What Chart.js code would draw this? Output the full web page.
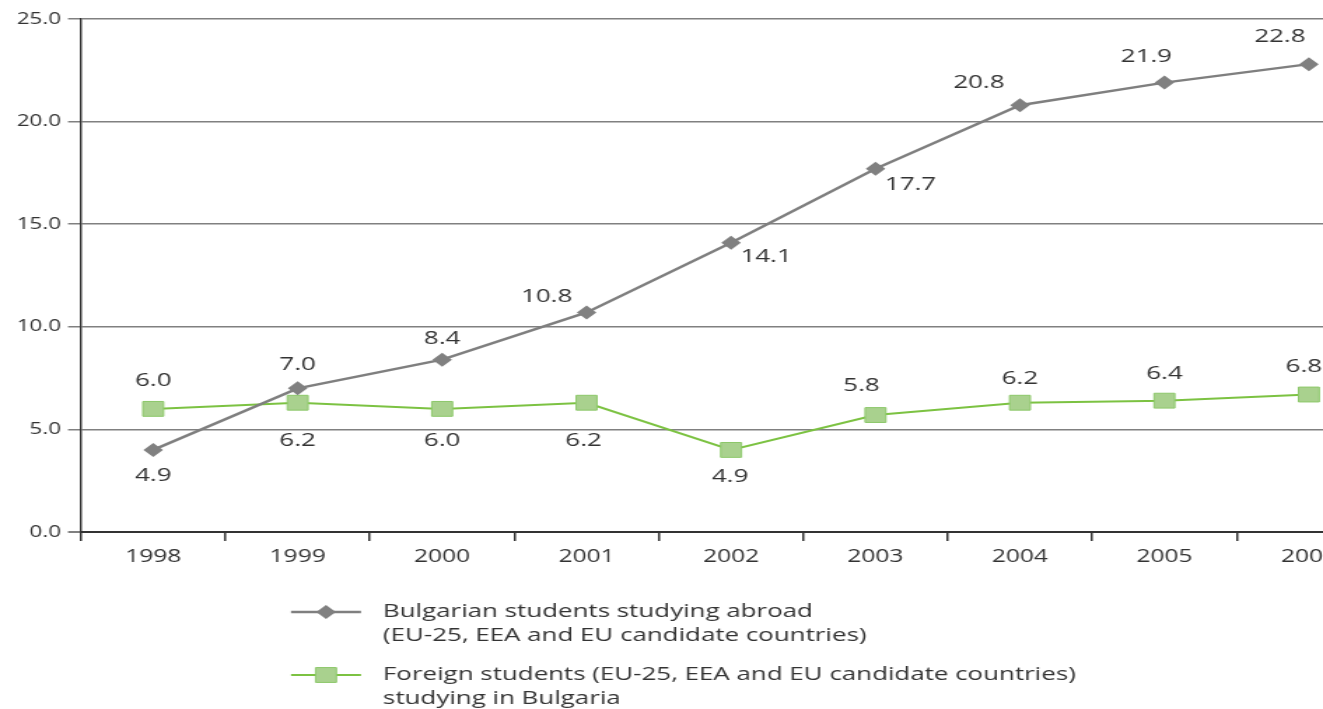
<!DOCTYPE html>
<html>
<head>
<meta charset="utf-8">
<script src="https://cdn.jsdelivr.net/npm/chart.js@4"></script>
<style>
  html, body { margin: 0; padding: 0; background: #fff; overflow: hidden; }
  #wrap { width: 998px; height: 709px; transform: scaleX(1.4); transform-origin: 0 0; }
</style>
</head>
<body>
<div id="wrap"><canvas id="studentsChart" width="998" height="709"></canvas></div>
<script>
// the source picture is stretched sideways, so the page is drawn narrow and widened
const S = 1.4;

const years = ['1998', '1999', '2000', '2001', '2002', '2003', '2004', '2005', '2006'];

// where the points sit in the picture
const bulgarianAbroad = [4.0, 7.0, 8.4, 10.7, 14.1, 17.7, 20.8, 21.9, 22.8];
const foreignInBulgaria = [6.0, 6.3, 6.0, 6.3, 4.0, 5.7, 6.3, 6.4, 6.7];

// what the value labels say
const bulgarianLabels = ['4.9', '7.0', '8.4', '10.8', '14.1', '17.7', '20.8', '21.9', '22.8'];
const foreignLabels = ['6.0', '6.2', '6.0', '6.2', '4.9', '5.8', '6.2', '6.4', '6.8'];

const yTicks = [0, 5, 10, 15, 20, 25];

const seriesNames = [
  ['Bulgarian students studying abroad', '(EU-25, EEA and EU candidate countries)'],
  ['Foreign students (EU-25, EEA and EU candidate countries)', 'studying in Bulgaria']
];

const FONT = '"Open Sans", "DejaVu Sans", sans-serif';

// label placement relative to each point (screen px)
const labelOffsets = [
  [[0, 26], [0, -24], [0, -21], [-40, -16], [35, 14], [35, 16], [-41, -22], [-18, -26], [-29, -27]],
  [[0, -28], [0, 38], [0, 32], [-3, 38], [-1, 27], [-14, -29], [0, -24], [0, -27], [-5, -28]]
];

const valueLabels = {
  id: 'valueLabels',
  afterDatasetsDraw(chart) {
    const ctx = chart.ctx;
    ctx.save();
    ctx.font = '18.5px ' + FONT;
    ctx.fillStyle = '#333333';
    ctx.textAlign = 'center';
    ctx.textBaseline = 'middle';
    const texts = [bulgarianLabels, foreignLabels];
    chart.data.datasets.forEach((ds, i) => {
      chart.getDatasetMeta(i).data.forEach((pt, j) => {
        const [dx, dy] = labelOffsets[i][j];
        ctx.fillText(texts[i][j], pt.x + dx / S, pt.y + dy);
      });
    });
    ctx.restore();
  }
};

function marker(ctx, ds, x, y) {
  ctx.fillStyle = ds.pointBackgroundColor;
  ctx.strokeStyle = ds.pointBorderColor;
  ctx.lineWidth = ds.pointBorderWidth;
  ctx.beginPath();
  if (ds.pointStyle === 'rectRot') {
    const r = ds.pointRadius;
    ctx.moveTo(x, y - r); ctx.lineTo(x + r, y); ctx.lineTo(x, y + r); ctx.lineTo(x - r, y);
  } else {
    const h = ds.pointRadius * Math.SQRT1_2;
    ctx.rect(x - h, y - h, 2 * h, 2 * h);
  }
  ctx.closePath();
  ctx.fill();
  if (ds.pointBorderWidth) ctx.stroke();
}

const customLegend = {
  id: 'customLegend',
  afterDraw(chart) {
    const ctx = chart.ctx;
    const rows = [612, 675];
    ctx.save();
    chart.data.datasets.forEach((ds, i) => {
      const y = rows[i];
      ctx.strokeStyle = ds.borderColor;
      ctx.lineWidth = ds.borderWidth;
      ctx.beginPath();
      ctx.moveTo(291 / S, y);
      ctx.lineTo(361 / S, y);
      ctx.stroke();
      marker(ctx, ds, 326 / S, y);
      ctx.font = '18.5px ' + FONT;
      ctx.fillStyle = '#333333';
      ctx.textAlign = 'left';
      ctx.textBaseline = 'middle';
      seriesNames[i].forEach((line, k) => ctx.fillText(line, 383 / S, y + k * 23.5));
    });
    ctx.restore();
  }
};

new Chart(document.getElementById('studentsChart').getContext('2d'), {
  type: 'line',
  data: {
    labels: years,
    datasets: [{
      label: seriesNames[0].join(' '),
      data: bulgarianAbroad,
      borderColor: '#7f7f7f',
      borderWidth: 2.5,
      pointStyle: 'rectRot',
      pointRadius: 7,
      pointBackgroundColor: '#808080',
      pointBorderColor: '#808080',
      pointBorderWidth: 0,
      tension: 0
    }, {
      label: seriesNames[1].join(' '),
      data: foreignInBulgaria,
      borderColor: '#7cc242',
      borderWidth: 2,
      pointStyle: 'rect',
      pointRadius: 10.5,
      pointBackgroundColor: '#a9d18e',
      pointBorderColor: '#8dc86a',
      pointBorderWidth: 1,
      tension: 0
    }]
  },
  options: {
    responsive: false,
    animation: false,
    events: [],
    devicePixelRatio: 1,
    layout: { padding: { top: 19, right: 0, left: 0, bottom: 0 } },
    plugins: {
      legend: { display: false },
      tooltip: { enabled: false }
    },
    scales: {
      x: {
        offset: true,
        grid: {
          offset: true,
          drawOnChartArea: false,
          drawTicks: true,
          tickLength: 9,
          color: '#333333',
          lineWidth: 1.5
        },
        border: { color: '#333333', width: 2 },
        ticks: {
          color: '#333333',
          padding: 6,
          font: { family: FONT, size: 17.5 },
          maxRotation: 0,
          autoSkip: false
        },
        afterFit(scale) { scale.height = 709 - 532; }
      },
      y: {
        min: 0,
        max: 25,
        afterBuildTicks(scale) { scale.ticks = yTicks.map(v => ({ value: v })); },
        grid: {
          color: '#808080',
          lineWidth: ctx => (ctx.tick && ctx.tick.value === 0 ? 2 : 1.5),
          tickLength: 9.3,
          tickColor: '#808080'
        },
        border: { color: '#333333', width: 2 / S },
        ticks: {
          color: '#333333',
          padding: 5,
          font: { family: FONT, size: 16 },
          callback: v => v.toFixed(1)
        },
        afterFit(scale) { scale.width = 81 / S; }
      }
    }
  },
  plugins: [valueLabels, customLegend]
});
</script>
</body>
</html>
